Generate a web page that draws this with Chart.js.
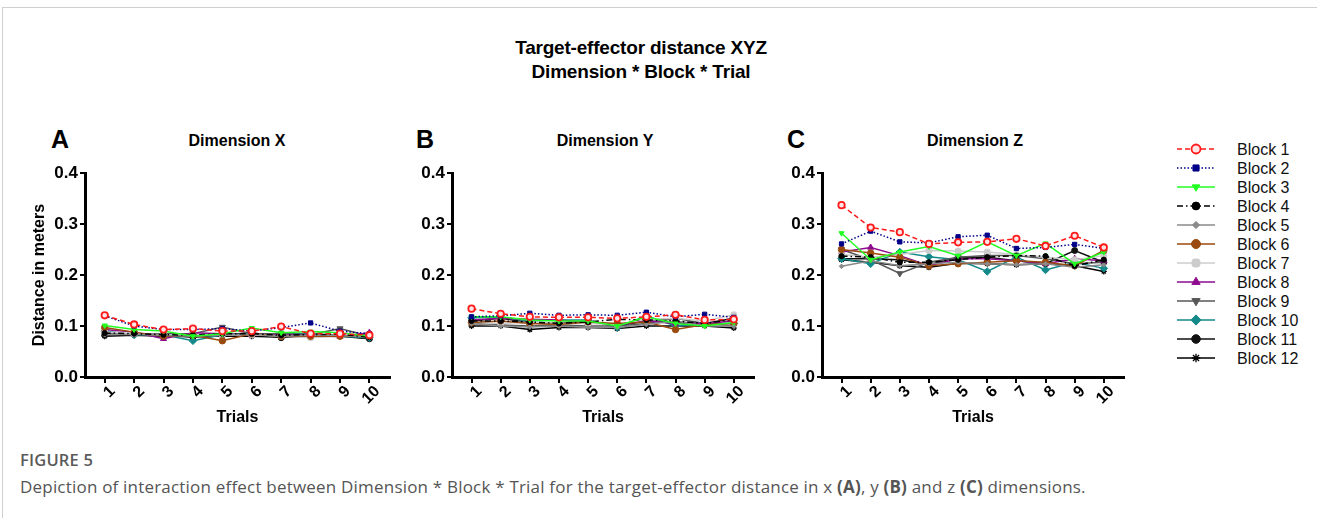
<!DOCTYPE html>
<html>
<head>
<meta charset="utf-8">
<script src="https://cdn.jsdelivr.net/npm/chart.js@4.4.1/dist/chart.umd.min.js"></script>
<style>
  html, body { margin:0; padding:0; background:#fff; }
  body { width:1317px; height:518px; position:relative; overflow:hidden; font-family:"Liberation Sans", Arial, sans-serif; }
  .frame { position:absolute; left:2px; top:7px; width:1400px; height:600px; border-left:1px solid #cfcfcf; border-top:1px solid #cfcfcf; box-sizing:border-box; }
  .abs { position:absolute; white-space:nowrap; }
  .title { left:441px; width:400px; text-align:center; font-weight:bold; font-size:19px; letter-spacing:-0.2px; line-height:24px; color:#000; }
  .ptitle { font-weight:bold; font-size:16px; line-height:20px; width:240px; text-align:center; color:#000; }
  .letter { font-weight:bold; font-size:25px; line-height:28px; color:#000; }
  .leg { font-size:16px; line-height:19px; color:#111; left:1237px; }
  .cap { font-family:"Open Sans", "Noto Sans", sans-serif; color:#555; }
  canvas { position:absolute; }
</style>
</head>
<body>
<div class="frame"></div>
<div class="abs title" style="top:36px;">Target-effector distance XYZ</div>
<div class="abs title" style="top:60px;">Dimension * Block * Trial</div>

<div class="abs letter" style="left:51px; top:125px;">A</div>
<div class="abs letter" style="left:416px; top:125px;">B</div>
<div class="abs letter" style="left:787px; top:125px;">C</div>
<div class="abs ptitle" style="left:117px; top:131px;">Dimension X</div>
<div class="abs ptitle" style="left:485px; top:131px;">Dimension Y</div>
<div class="abs ptitle" style="left:855px; top:131px;">Dimension Z</div>

<canvas id="cA" width="400" height="280" style="left:0px; top:160px; width:400px; height:280px;"></canvas>
<canvas id="cB" width="360" height="280" style="left:400px; top:160px; width:360px; height:280px;"></canvas>
<canvas id="cC" width="360" height="280" style="left:770px; top:160px; width:360px; height:280px;"></canvas>
<canvas id="legCanvas" width="60" height="240" style="left:1170px; top:135px; width:60px; height:240px;"></canvas>
<div id="legLabels"></div>

<div class="abs cap" style="left:20px; top:448px; font-size:16.5px; font-weight:600; color:#5a5a5a; letter-spacing:0.2px;">FIGURE 5</div>
<div class="abs cap" style="left:20px; top:475px; font-size:17px; letter-spacing:0.2px;">Depiction of interaction effect between Dimension * Block * Trial for the target-effector distance in x <b>(A)</b>, y <b>(B)</b> and z <b>(C)</b> dimensions.</div>

<script>
// ---------- data ----------
const trials = [1, 2, 3, 4, 5, 6, 7, 8, 9, 10];
const yTicks = [0.0, 0.1, 0.2, 0.3, 0.4];
const blocks = ['Block 1','Block 2','Block 3','Block 4','Block 5','Block 6','Block 7','Block 8','Block 9','Block 10','Block 11','Block 12'];

// Dimension X (panel A), one row per block
const dimX = [
  [0.121, 0.103, 0.093, 0.095, 0.090, 0.090, 0.099, 0.085, 0.085, 0.082],
  [0.120, 0.100, 0.093, 0.093, 0.095, 0.090, 0.097, 0.106, 0.090, 0.085],
  [0.101, 0.093, 0.090, 0.080, 0.085, 0.096, 0.087, 0.089, 0.087, 0.080],
  [0.086, 0.085, 0.083, 0.082, 0.085, 0.085, 0.082, 0.083, 0.084, 0.078],
  [0.083, 0.084, 0.082, 0.080, 0.082, 0.084, 0.080, 0.082, 0.082, 0.078],
  [0.097, 0.088, 0.080, 0.082, 0.071, 0.085, 0.080, 0.080, 0.080, 0.082],
  [0.088, 0.085, 0.083, 0.083, 0.083, 0.083, 0.080, 0.077, 0.080, 0.080],
  [0.093, 0.088, 0.075, 0.087, 0.085, 0.082, 0.082, 0.082, 0.079, 0.087],
  [0.085, 0.085, 0.085, 0.085, 0.098, 0.085, 0.085, 0.083, 0.095, 0.080],
  [0.090, 0.083, 0.083, 0.071, 0.083, 0.085, 0.085, 0.085, 0.080, 0.077],
  [0.082, 0.085, 0.082, 0.078, 0.082, 0.087, 0.077, 0.082, 0.082, 0.075],
  [0.080, 0.082, 0.080, 0.080, 0.080, 0.080, 0.078, 0.080, 0.080, 0.075]
];

// Dimension Y (panel B)
const dimY = [
  [0.134, 0.124, 0.118, 0.117, 0.117, 0.115, 0.118, 0.122, 0.112, 0.113],
  [0.118, 0.120, 0.125, 0.121, 0.122, 0.121, 0.127, 0.118, 0.123, 0.117],
  [0.118, 0.118, 0.112, 0.110, 0.110, 0.100, 0.118, 0.105, 0.100, 0.107],
  [0.110, 0.110, 0.108, 0.105, 0.108, 0.113, 0.112, 0.110, 0.105, 0.113],
  [0.105, 0.100, 0.098, 0.100, 0.097, 0.097, 0.103, 0.110, 0.100, 0.100],
  [0.107, 0.110, 0.105, 0.103, 0.108, 0.105, 0.108, 0.093, 0.103, 0.105],
  [0.108, 0.105, 0.108, 0.105, 0.105, 0.103, 0.113, 0.115, 0.110, 0.122],
  [0.112, 0.115, 0.113, 0.112, 0.107, 0.103, 0.110, 0.105, 0.105, 0.110],
  [0.105, 0.102, 0.100, 0.102, 0.100, 0.100, 0.105, 0.115, 0.105, 0.100],
  [0.116, 0.117, 0.110, 0.112, 0.112, 0.097, 0.120, 0.100, 0.105, 0.105],
  [0.110, 0.115, 0.107, 0.105, 0.110, 0.100, 0.110, 0.108, 0.105, 0.115],
  [0.100, 0.100, 0.093, 0.097, 0.097, 0.095, 0.100, 0.100, 0.100, 0.096]
];

// Dimension Z (panel C)
const dimZ = [
  [0.337, 0.293, 0.284, 0.261, 0.264, 0.265, 0.271, 0.257, 0.277, 0.254],
  [0.261, 0.286, 0.265, 0.263, 0.275, 0.278, 0.252, 0.254, 0.260, 0.252],
  [0.282, 0.230, 0.245, 0.256, 0.238, 0.265, 0.238, 0.262, 0.222, 0.245],
  [0.237, 0.235, 0.225, 0.225, 0.230, 0.235, 0.238, 0.237, 0.218, 0.230],
  [0.217, 0.228, 0.218, 0.222, 0.225, 0.222, 0.220, 0.222, 0.215, 0.220],
  [0.250, 0.243, 0.235, 0.218, 0.222, 0.225, 0.228, 0.225, 0.218, 0.248],
  [0.240, 0.235, 0.240, 0.248, 0.247, 0.245, 0.240, 0.235, 0.230, 0.238],
  [0.245, 0.254, 0.238, 0.218, 0.232, 0.232, 0.228, 0.222, 0.232, 0.228],
  [0.250, 0.230, 0.203, 0.225, 0.235, 0.238, 0.238, 0.232, 0.222, 0.225],
  [0.232, 0.222, 0.245, 0.236, 0.230, 0.207, 0.235, 0.210, 0.225, 0.213],
  [0.232, 0.232, 0.230, 0.220, 0.235, 0.235, 0.228, 0.222, 0.248, 0.225],
  [0.230, 0.225, 0.218, 0.215, 0.223, 0.222, 0.220, 0.222, 0.218, 0.207]
];

// ---------- styles ----------
const blockStyles = [
  { color:'#ff1a1a', dash:[5,3],       point:'circle',      radius:3.2, rot:0,   fill:'#ffe5e5', bw:1.8 },
  { color:'#000088', dash:[1.5,2],     point:'rect',        radius:3,   rot:0,   fill:'#000088', bw:1 },
  { color:'#22ff22', dash:[],          point:'triangle',    radius:3,   rot:180, fill:'#22ff22', bw:1 },
  { color:'#000000', dash:[6,3,1.5,3], point:'circle',      radius:2.6, rot:0,   fill:'#000000', bw:1 },
  { color:'#8a8a8a', dash:[],          point:'rectRot',     radius:2.3, rot:0,   fill:'#8a8a8a', bw:1 },
  { color:'#9a4a0e', dash:[],          point:'circle',      radius:3.2, rot:0,   fill:'#9a4a0e', bw:1 },
  { color:'#cccccc', dash:[],          point:'rectRounded', radius:3.3, rot:0,   fill:'#cccccc', bw:1 },
  { color:'#8e0a8e', dash:[],          point:'triangle',    radius:3.5, rot:0,   fill:'#8e0a8e', bw:1 },
  { color:'#575757', dash:[],          point:'triangle',    radius:3.5, rot:180, fill:'#575757', bw:1 },
  { color:'#14898a', dash:[],          point:'rectRot',     radius:3.8, rot:0,   fill:'#14898a', bw:1 },
  { color:'#111111', dash:[],          point:'circle',      radius:3,   rot:0,   fill:'#111111', bw:1 },
  { color:'#000000', dash:[],          point:'star',        radius:3,   rot:0,   fill:'#000000', bw:1.3 }
];

const FONT = '"Liberation Sans", Arial, sans-serif';
Chart.defaults.font.family = FONT;
Chart.defaults.color = '#000';

function makeDatasets(rows) {
  return rows.map((vals, i) => {
    const s = blockStyles[i];
    return {
      label: blocks[i],
      data: vals.map((v, k) => ({ x: trials[k], y: v })),
      borderColor: s.color,
      backgroundColor: s.fill,
      borderWidth: 1.5,
      borderDash: s.dash,
      pointStyle: s.point,
      pointRadius: s.radius,
      pointRotation: s.rot,
      pointBackgroundColor: s.fill,
      pointBorderColor: s.color,
      pointBorderWidth: s.bw,
      tension: 0,
      fill: false
    };
  });
}

function makeChart(id, rows, yWidth, padRight, showYTitle) {
  return new Chart(document.getElementById(id), {
    type: 'line',
    data: { datasets: makeDatasets(rows) },
    options: {
      responsive: false,
      animation: false,
      layout: { padding: { left: 0, right: padRight, top: 13, bottom: 0 } },
      plugins: { legend: { display: false }, tooltip: { enabled: false }, title: { display: false } },
      scales: {
        x: {
          type: 'linear',
          min: 0.33, max: 10.7,
          afterBuildTicks: s => { s.ticks = trials.map(v => ({ value: v })); },
          afterFit: s => { s.height = 63; s.paddingLeft = 0; s.paddingRight = 0; },
          ticks: {
            autoSkip: false, minRotation: 45, maxRotation: 45,
            padding: -1, labelOffset: 8,
            font: { family: FONT, size: 16, weight: 'bold' }, color: '#000',
            callback: v => String(v)
          },
          grid: { drawOnChartArea: false, drawTicks: true, tickLength: 6, color: '#000', lineWidth: 2 },
          border: { display: true, color: '#000', width: 3 },
          title: { display: true, text: 'Trials', font: { family: FONT, size: 16, weight: 'bold' }, color: '#000', padding: { top: 4, bottom: 13 } }
        },
        y: {
          type: 'linear',
          min: 0, max: 0.4,
          afterBuildTicks: s => { s.ticks = yTicks.map(v => ({ value: v })); },
          afterFit: s => { s.width = yWidth; s.paddingTop = 0; s.paddingBottom = 0; },
          ticks: {
            padding: 2,
            font: { family: FONT, size: 17, weight: 'bold' }, color: '#000',
            callback: v => Number(v).toFixed(1)
          },
          grid: { drawOnChartArea: false, drawTicks: true, tickLength: 5, color: '#000', lineWidth: 2 },
          border: { display: true, color: '#000', width: 3 },
          title: { display: showYTitle, text: 'Distance in meters', font: { family: FONT, size: 16, weight: 'bold' }, color: '#000', padding: { top: 30, bottom: 4 } }
        }
      }
    }
  });
}

makeChart('cA', dimX, 85, 10, true);
makeChart('cB', dimY, 52, 2, false);
makeChart('cC', dimZ, 52, 2, false);

// ---------- shared legend ----------
(function drawLegend() {
  const cv = document.getElementById('legCanvas');
  const ctx = cv.getContext('2d');
  const labelsDiv = document.getElementById('legLabels');
  blocks.forEach((name, i) => {
    const s = blockStyles[i];
    const y = 14 + i * 19;
    ctx.save();
    ctx.strokeStyle = s.color;
    ctx.lineWidth = 1.5;
    ctx.setLineDash(s.dash);
    ctx.beginPath();
    ctx.moveTo(7, y); ctx.lineTo(45, y);
    ctx.stroke();
    ctx.setLineDash([]);
    ctx.fillStyle = s.fill;
    ctx.strokeStyle = s.color;
    ctx.lineWidth = s.bw;
    Chart.helpers.drawPoint(ctx, { pointStyle: s.point, rotation: s.rot, radius: s.radius + 1.3, borderWidth: s.bw }, 26, y);
    ctx.restore();
    const d = document.createElement('div');
    d.className = 'abs leg';
    d.style.top = (135 + y - 9.5) + 'px';
    d.textContent = name;
    labelsDiv.appendChild(d);
  });
})();
</script>
</body>
</html>
